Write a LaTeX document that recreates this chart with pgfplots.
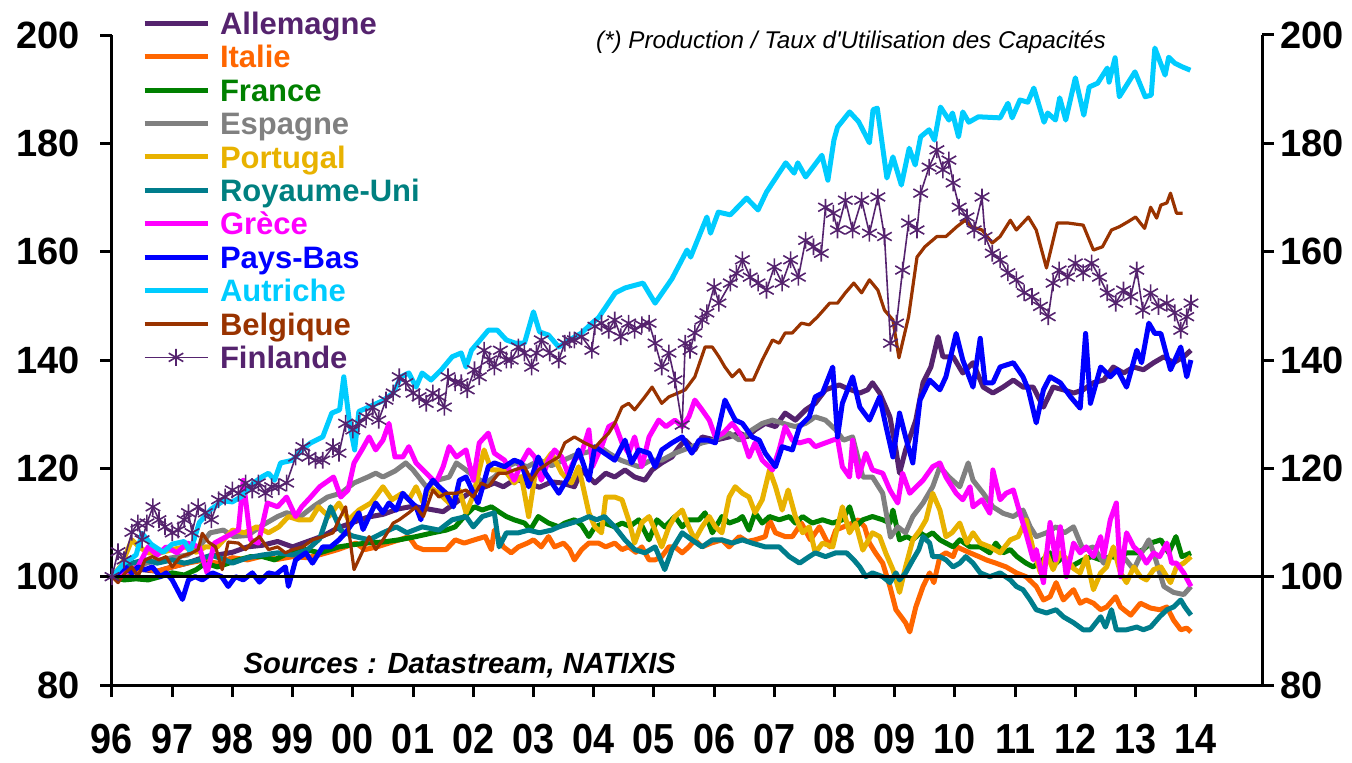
\documentclass[border=0pt]{standalone}
\usepackage{fontspec}
\setmainfont{Liberation Sans}
\newfontfamily\plainfont{Liberation Sans}[Ligatures=TeXOff]
\newfontfamily\condfont{Liberation Sans}[FakeStretch=0.9]
\usepackage{pgfplots}
\pgfplotsset{compat=1.18}
\definecolor{cAll}{RGB}{85,35,110}
\definecolor{cIta}{RGB}{255,102,0}
\definecolor{cFra}{RGB}{0,128,0}
\definecolor{cEsp}{RGB}{128,128,128}
\definecolor{cPor}{RGB}{232,178,0}
\definecolor{cRU}{RGB}{0,125,140}
\definecolor{cRUt}{RGB}{0,128,128}
\definecolor{cGre}{RGB}{255,0,255}
\definecolor{cPB}{RGB}{0,0,255}
\definecolor{cAut}{RGB}{0,204,255}
\definecolor{cBel}{RGB}{153,51,0}
\definecolor{cFin}{RGB}{85,35,110}
\pgfplotsset{
  common/.style={
    scale only axis, width=575pt, height=325pt,
    xmin=1996, xmax=2015.1, ymin=80, ymax=200,
    ytick={80,100,...,200},
    yticklabels={80,100,120,140,160,180,200},
    tick align=outside, major tick length=6pt,
    every tick/.style={black, line width=1.5pt},
    axis line style={black, line width=1.5pt, -},
    tick label style={font=\fontsize{19}{19}\selectfont\bfseries},
  }
}
\begin{document}
\begin{tikzpicture}
\path[use as bounding box] (-56pt,-38.5pt) rectangle (620pt,342.5pt);
\begin{axis}[common,
  axis x line*=bottom, axis y line*=left,
  xtick={1996,...,2014},
  xticklabels={96,97,98,99,00,01,02,03,04,05,06,07,08,09,10,11,12,13,14},
  xticklabel style={font=\condfont\fontsize{21}{21}\selectfont\bfseries, anchor=north, inner sep=0pt, yshift=-13.5pt},
  yticklabel style={anchor=east, inner sep=0pt, xshift=-10pt},
  clip=false,
  every axis plot/.append style={line join=round, mark=none},
  legend image code/.code={\draw[#1,mark repeat=2,mark phase=2] plot coordinates {(0pt,0pt) (15.75pt,0pt) (31.5pt,0pt)};},
  legend style={at={(rel axis cs:0.0261,1.0436)}, anchor=north west,
    draw=none, fill=none, inner sep=0pt, outer sep=0pt, row sep=0pt,
    font=\fontsize{15.5}{16}\selectfont\bfseries,
    nodes={anchor=west, inner sep=0pt, text height=13.9pt, text depth=2.8pt},
    /tikz/every odd column/.append style={column sep=5pt}},
]
% Allemagne
\addplot[cAll, line width=2.5pt] coordinates {
(1996.0,100) (1996.25,100.5) (1996.5,101.3) (1996.75,101) (1997.0,101.8) (1997.25,102.5) (1997.5,103.5) (1997.75,104)
(1998.0,104.5) (1998.25,105.5) (1998.5,105.8) (1998.75,106.5) (1999.0,105.5) (1999.25,106.5) (1999.5,107.5) (1999.75,109)
(2000.0,110) (2000.25,111) (2000.5,111.5) (2000.75,112.5) (2001.0,113) (2001.25,112.5) (2001.5,112) (2001.75,114)
(2002.0,116) (2002.2,116.6) (2002.35,117.3) (2002.5,116.6) (2002.7,118) (2002.9,117.3) (2003.1,116.5) (2003.3,117.5)
(2003.47,117.3) (2003.68,116.6) (2003.8,119.7) (2004.02,117.3) (2004.2,119.1) (2004.35,118.4) (2004.52,119.7) (2004.68,118.4)
(2004.85,117.8) (2004.97,119.7) (2005.13,121) (2005.3,122.1) (2005.42,124) (2005.52,125.2) (2005.68,123.4) (2005.8,125.8)
(2006.02,125.2) (2006.25,125.8) (2006.42,126.5) (2006.55,125.8) (2006.68,127.1) (2006.85,128.3) (2007.02,127.7) (2007.18,130.2)
(2007.35,128.9) (2007.52,130.8) (2007.68,132) (2007.85,134.5) (2008.08,135.4) (2008.2,134.8) (2008.42,133.9) (2008.55,134.5)
(2008.63,135.8) (2008.75,133.9) (2008.92,129.5) (2009.02,123.4) (2009.08,119.1) (2009.18,123.4) (2009.35,128.9) (2009.47,135.8)
(2009.6,138.7) (2009.72,144.3) (2009.8,140.6) (2009.97,140.6) (2010.13,137.6) (2010.3,139.5) (2010.47,135) (2010.63,133.9)
(2010.8,135) (2010.97,136.3) (2011.13,135) (2011.3,135) (2011.47,131.3) (2011.63,135) (2011.8,134.5) (2011.97,133.9)
(2012.13,134.5) (2012.3,135.8) (2012.47,136.3) (2012.63,138.7) (2012.8,137.6) (2012.97,138.7) (2013.13,138.2) (2013.3,139.5)
(2013.47,140.6) (2013.63,139.5) (2013.8,140.6) (2013.92,141.8)};
\addlegendentry{\textcolor{cAll}{Allemagne}}
% Italie
\addplot[cIta, line width=2.5pt] coordinates {
(1996.0,100) (1996.25,100.8) (1996.5,101.5) (1996.75,101) (1997.0,101.8) (1997.25,102.5) (1997.5,103) (1997.75,102.5)
(1998.0,103.5) (1998.25,103.1) (1998.5,103.8) (1998.75,103.2) (1999.0,103.7) (1999.25,103.5) (1999.5,104.2) (1999.75,105)
(2000.05,106.2) (2000.2,105) (2000.4,105.5) (2000.6,106.2) (2000.77,106.8) (2000.93,107.4) (2001.05,105.5) (2001.17,105)
(2001.35,105) (2001.55,105) (2001.7,106.8) (2001.85,106.2) (2002.02,106.8) (2002.2,107.4) (2002.3,105) (2002.35,108.6)
(2002.5,105.5) (2002.63,104.4) (2002.75,105.5) (2002.9,106.2) (2003.0,106.8) (2003.13,105.5) (2003.25,107.4) (2003.35,105.5)
(2003.5,106.2) (2003.6,105) (2003.68,103.1) (2003.8,105) (2003.92,106.2) (2004.08,106.2) (2004.2,105.5) (2004.35,106.2)
(2004.47,105) (2004.58,105.5) (2004.7,104.5) (2004.8,105.5) (2004.92,103.1) (2005.02,103.1) (2005.13,103.7) (2005.25,105.5)
(2005.35,105.5) (2005.47,104.4) (2005.58,105.5) (2005.68,106.8) (2005.8,105.5) (2005.95,106.2) (2006.13,106.8) (2006.25,105.5)
(2006.42,107.4) (2006.55,106.5) (2006.68,106.8) (2006.85,107.4) (2006.92,110.5) (2007.02,108.1) (2007.18,107.4) (2007.3,107.4)
(2007.45,109.9) (2007.6,106.8) (2007.75,109.2) (2007.92,105.5) (2008.02,108.6) (2008.15,109.2) (2008.3,109.9) (2008.4,110.5)
(2008.5,109.2) (2008.58,106.2) (2008.68,104.4) (2008.8,102.5) (2008.92,98.2) (2009.02,93.9) (2009.18,91.5) (2009.25,89.8)
(2009.35,94.4) (2009.47,98.2) (2009.58,100.7) (2009.65,98.9) (2009.75,103.7) (2009.85,104.4) (2009.97,103.7) (2010.03,105.5)
(2010.13,105) (2010.25,104.4) (2010.4,103.7) (2010.52,103.1) (2010.68,102.5) (2010.85,101.8) (2011.02,100.7) (2011.18,100)
(2011.35,98.2) (2011.47,95.7) (2011.58,96.3) (2011.68,98.9) (2011.8,95.7) (2011.97,97.6) (2012.08,95.1) (2012.18,95.7)
(2012.3,95.1) (2012.42,93.9) (2012.52,94.4) (2012.67,96.3) (2012.75,94.4) (2012.92,92.9) (2013.08,95.1) (2013.25,94.2)
(2013.4,93.9) (2013.52,94.4) (2013.63,92) (2013.75,90.2) (2013.85,90.5) (2013.92,89.8)};
\addlegendentry{\textcolor{cIta}{Italie}}
% France
\addplot[cFra, line width=2.5pt] coordinates {
(1996.0,100) (1996.2,99.4) (1996.4,99.6) (1996.6,99.4) (1996.8,100) (1997.0,100.7) (1997.2,100.3) (1997.4,101.3)
(1997.55,102.5) (1997.75,101.8) (1998.1,103.1) (1998.3,103.7) (1998.5,103.7) (1998.7,103.1) (1998.93,104.4) (1999.22,105)
(1999.45,104.4) (1999.77,105.5) (2000.0,105.9) (2000.22,106.2) (2000.5,106.4) (2000.77,106.8) (2001.05,107.4) (2001.33,108.1)
(2001.55,108.6) (2001.7,109.2) (2001.85,111.1) (2002.02,112.9) (2002.15,112.3) (2002.3,112.9) (2002.45,111.8) (2002.55,111.1)
(2002.68,110.5) (2002.85,109.9) (2002.95,108.7) (2003.08,111.1) (2003.25,109.9) (2003.42,109.2) (2003.52,109.9) (2003.68,110.5)
(2003.8,109.5) (2003.92,107.4) (2004.02,109.2) (2004.18,109.9) (2004.35,109.2) (2004.47,109.9) (2004.6,109.3) (2004.75,110.5)
(2004.92,106.8) (2005.05,110.5) (2005.18,109.2) (2005.35,111.1) (2005.47,109.2) (2005.58,110.5) (2005.75,110.5) (2005.85,111.8)
(2005.97,108.1) (2006.13,111.1) (2006.25,109.9) (2006.4,110.5) (2006.47,111.1) (2006.58,108.6) (2006.68,111.8) (2006.8,109.9)
(2006.92,111.1) (2007.08,110.5) (2007.25,111.1) (2007.35,109.9) (2007.47,111.1) (2007.63,109.9) (2007.8,110.5) (2007.97,109.9)
(2008.13,110.5) (2008.25,112.9) (2008.35,109.2) (2008.47,110.5) (2008.63,111.1) (2008.8,110.5) (2008.92,109.9) (2008.97,112.3)
(2009.08,106.8) (2009.2,107.4) (2009.3,106.8) (2009.42,108.1) (2009.52,107.4) (2009.63,108.1) (2009.75,106.8) (2009.85,106.2)
(2009.97,105.5) (2010.08,106.8) (2010.25,105.5) (2010.42,105.5) (2010.58,104.4) (2010.68,106.2) (2010.8,104.4) (2010.92,105)
(2011.03,103.7) (2011.18,102.5) (2011.3,101.8) (2011.45,103) (2011.58,104.4) (2011.68,102.5) (2011.8,103.7) (2011.92,101.8)
(2012.03,102.5) (2012.13,103.1) (2012.27,103.7) (2012.42,103.1) (2012.58,103.7) (2012.72,103.5) (2012.85,104.4) (2013.02,104.4)
(2013.13,105) (2013.25,106.2) (2013.42,106.8) (2013.55,104.4) (2013.67,107.4) (2013.77,103.7) (2013.92,104.4)};
\addlegendentry{\textcolor{cFra}{France}}
% Espagne
\addplot[cEsp, line width=2.5pt] coordinates {
(1996.0,100) (1996.25,101) (1996.5,102.3) (1996.75,103) (1997.0,103.5) (1997.25,104) (1997.45,105.5) (1997.63,108.1)
(1997.85,108.6) (1998.02,107.4) (1998.25,107.6) (1998.5,109.5) (1998.75,111.1) (1998.9,111.8) (1999.13,111.1) (1999.35,113)
(1999.58,114.7) (1999.8,115.4) (2000.02,117.3) (2000.25,118.4) (2000.38,119.1) (2000.5,118.4) (2000.7,119.5) (2000.88,121)
(2001.0,119.7) (2001.22,116.6) (2001.4,117.8) (2001.6,118.4) (2001.72,121) (2001.88,119.7) (2002.02,118.4) (2002.2,117.3)
(2002.35,118.4) (2002.5,120) (2002.7,121) (2002.9,120.3) (2003.1,121.5) (2003.3,120.5) (2003.5,121.5) (2003.7,122.5)
(2003.9,123) (2004.1,124) (2004.25,122.8) (2004.45,121.5) (2004.75,120.3) (2004.95,121.5) (2005.13,121.5) (2005.35,122.8)
(2005.63,124) (2005.8,124.7) (2006.0,125.2) (2006.25,126.5) (2006.42,125.2) (2006.63,127.1) (2006.8,128.3) (2006.97,128.9)
(2007.15,128.3) (2007.35,127.7) (2007.52,128.3) (2007.68,129.5) (2007.85,128.9) (2008.02,127.1) (2008.15,125.2) (2008.3,125.8)
(2008.47,118.4) (2008.63,118.4) (2008.8,115.4) (2008.93,107.3) (2009.05,109.2) (2009.18,108.1) (2009.3,111.1) (2009.47,113.6)
(2009.63,116.6) (2009.75,120.3) (2009.9,118.4) (2010.08,116.6) (2010.22,121) (2010.3,117.8) (2010.47,115.4) (2010.63,112.9)
(2010.8,111.7) (2010.97,111.1) (2011.13,112.3) (2011.25,109.2) (2011.35,107.4) (2011.52,108.1) (2011.68,109.2) (2011.82,108.1)
(2011.97,109.2) (2012.13,104.9) (2012.3,105.5) (2012.47,102.5) (2012.63,104.4) (2012.8,103.7) (2012.97,101.3) (2013.1,104.4)
(2013.22,106.8) (2013.3,104.4) (2013.47,98.2) (2013.63,97.1) (2013.8,96.7) (2013.92,98.2)};
\addlegendentry{\textcolor{cEsp}{Espagne}}
% Portugal
\addplot[cPor, line width=2.5pt] coordinates {
(1996.0,100) (1996.15,102) (1996.33,106.8) (1996.45,105.5) (1996.6,104.4) (1996.8,104.4) (1997.0,105) (1997.2,105.5)
(1997.4,104.5) (1997.55,105.5) (1997.75,105.5) (1998.0,108.6) (1998.2,108.1) (1998.4,109.2) (1998.6,108.1) (1998.77,109.2)
(1998.93,111.1) (1999.1,110.5) (1999.3,110.5) (1999.43,112.9) (1999.6,111.1) (1999.77,113.6) (1999.93,110.5) (2000.1,112.3)
(2000.3,113.6) (2000.5,116.6) (2000.65,114.2) (2000.82,115.4) (2000.93,114.2) (2001.05,116.6) (2001.17,113.6) (2001.27,116.6)
(2001.43,115.4) (2001.6,113.6) (2001.77,116) (2001.88,111.8) (2002.0,115) (2002.18,123.4) (2002.3,119.7) (2002.52,119.7)
(2002.68,117.3) (2002.8,118.5) (2002.92,111.1) (2003.02,118.4) (2003.18,121) (2003.3,122.8) (2003.47,119.1) (2003.63,117.3)
(2003.75,120.3) (2003.92,111.8) (2004.02,109.2) (2004.13,108.1) (2004.2,114.7) (2004.35,114.7) (2004.47,114.2) (2004.58,110.5)
(2004.68,106.2) (2004.8,110) (2004.92,111.1) (2005.02,108.6) (2005.13,105.5) (2005.25,109.2) (2005.35,111.1) (2005.47,112.3)
(2005.58,109.2) (2005.68,106.8) (2005.8,109.2) (2005.92,111.1) (2006.02,109.2) (2006.13,108.1) (2006.25,114.7) (2006.35,116.6)
(2006.47,115.4) (2006.58,114.7) (2006.68,111.8) (2006.8,114.2) (2006.92,119.7) (2007.02,116.6) (2007.13,112.3) (2007.23,116)
(2007.35,111.1) (2007.47,108.1) (2007.58,109.2) (2007.68,104.4) (2007.8,106.2) (2007.97,105.5) (2008.13,112.9) (2008.25,108.1)
(2008.35,109.9) (2008.47,104.9) (2008.63,108.1) (2008.75,107.4) (2008.85,104.4) (2008.97,101.3) (2009.08,97.1) (2009.18,101.8)
(2009.3,106.8) (2009.42,108.6) (2009.52,110.5) (2009.63,115.4) (2009.75,112.3) (2009.85,107.4) (2009.95,108.1) (2010.08,109.9)
(2010.2,106.2) (2010.3,108.1) (2010.42,106.2) (2010.58,105.5) (2010.75,104.4) (2010.92,106.8) (2011.05,107.4) (2011.18,110.5)
(2011.3,105) (2011.42,100.7) (2011.52,104.4) (2011.63,101.3) (2011.75,104.4) (2011.87,103.1) (2011.97,101.5) (2012.08,100.7)
(2012.18,103.7) (2012.3,97.6) (2012.42,100.7) (2012.52,101.8) (2012.63,105.5) (2012.75,100.7) (2012.85,98.9) (2012.97,101.8)
(2013.08,100) (2013.18,99.4) (2013.3,101.3) (2013.42,101.8) (2013.58,98.9) (2013.68,101.8) (2013.8,102.5) (2013.92,103.7)};
\addlegendentry{\textcolor{cPor}{Portugal}}
% Royaume-Uni
\addplot[cRU, line width=2.5pt] coordinates {
(1996.0,100) (1996.2,101.5) (1996.33,102.5) (1996.55,103.1) (1996.75,102.5) (1997.0,103.1) (1997.2,102.5) (1997.45,103.1)
(1997.65,104) (1997.85,103.2) (1998.0,102.5) (1998.25,103.5) (1998.5,104) (1998.75,104.4) (1999.0,104) (1999.25,105)
(1999.45,107) (1999.63,112.9) (1999.8,108.5) (2000.0,107.5) (2000.27,106.8) (2000.5,108.1) (2000.72,109.2) (2000.9,108.1)
(2001.15,109.2) (2001.43,108.6) (2001.65,110.5) (2001.88,111.1) (2002.0,109.2) (2002.15,111.1) (2002.35,111.8) (2002.43,105.5)
(2002.55,108.1) (2002.75,108.1) (2002.92,108.6) (2003.1,108.1) (2003.3,108.6) (2003.42,109.2) (2003.63,109.9) (2003.8,110.5)
(2003.92,111.1) (2004.05,110.5) (2004.18,111.1) (2004.35,109.2) (2004.52,106.8) (2004.68,105) (2004.85,104.4) (2005.02,105.5)
(2005.18,101.3) (2005.3,105) (2005.47,108.1) (2005.63,106.8) (2005.8,105.5) (2005.97,106.8) (2006.13,106.8) (2006.3,106.2)
(2006.47,106.8) (2006.63,106.2) (2006.85,105.5) (2007.08,105.5) (2007.25,103.7) (2007.42,102.5) (2007.58,103.7) (2007.68,104.4)
(2007.85,103.7) (2008.02,104.4) (2008.2,104.4) (2008.32,103.1) (2008.42,101.8) (2008.52,100) (2008.63,100.7) (2008.8,100)
(2008.92,98.9) (2009.02,100.7) (2009.08,99.4) (2009.18,100.7) (2009.3,103.1) (2009.4,105) (2009.47,107.4) (2009.58,106.2)
(2009.63,103.7) (2009.75,103.7) (2009.85,103.1) (2009.97,101.8) (2010.08,102.5) (2010.18,103.7) (2010.3,102.5) (2010.42,100.7)
(2010.58,100) (2010.75,100.7) (2010.92,99.4) (2011.02,98.2) (2011.13,97.6) (2011.25,95.7) (2011.35,93.9) (2011.52,93.3)
(2011.68,93.9) (2011.8,92.6) (2011.97,91.5) (2012.13,90.2) (2012.25,90.2) (2012.42,92.6) (2012.5,90.7) (2012.6,93.9)
(2012.68,90.2) (2012.85,90.2) (2013.02,90.7) (2013.13,90.2) (2013.25,90.7) (2013.4,92.6) (2013.52,93.9) (2013.63,94.4)
(2013.75,95.7) (2013.82,94.4) (2013.92,92.9)};
\addlegendentry{\textcolor{cRUt}{Royaume-Uni}}
% Grece
\addplot[cGre, line width=2.5pt] coordinates {
(1996.0,100) (1996.2,100.7) (1996.43,101.8) (1996.6,105.5) (1996.75,104) (1996.9,105.5) (1997.08,104.4) (1997.25,106.2)
(1997.45,105.5) (1997.58,100.7) (1997.7,106.2) (1997.9,107.4) (1998.1,108.6) (1998.18,117.8) (1998.3,106.8) (1998.43,106.2)
(1998.58,113.6) (1998.75,112.9) (1998.9,114.7) (1999.05,111.1) (1999.15,112.9) (1999.3,114.7) (1999.45,116.6) (1999.68,118.4)
(1999.8,114.7) (1999.92,116) (2000.02,121) (2000.15,123.4) (2000.27,125.8) (2000.38,123.4) (2000.5,125.2) (2000.6,128.3)
(2000.7,122.1) (2000.83,122.1) (2000.93,124) (2001.05,121) (2001.22,119.1) (2001.38,117.3) (2001.5,120.3) (2001.6,124)
(2001.72,122.1) (2001.88,123.4) (2002.0,117.8) (2002.1,124.7) (2002.25,126.5) (2002.35,122.8) (2002.52,121.5) (2002.68,117.8)
(2002.8,121) (2002.92,123.4) (2003.02,122.1) (2003.13,117.8) (2003.25,121.5) (2003.35,123.4) (2003.47,122.1) (2003.57,119.1)
(2003.68,121.5) (2003.8,122.8) (2003.92,127.1) (2003.98,120.3) (2004.13,124) (2004.25,127.7) (2004.35,128.3) (2004.47,124.7)
(2004.58,122.8) (2004.68,125.8) (2004.8,120.3) (2004.92,125.8) (2005.08,128.9) (2005.2,127.7) (2005.35,128.9) (2005.47,127.7)
(2005.58,129.5) (2005.68,132.6) (2005.8,130.8) (2005.92,128.9) (2006.02,125.8) (2006.15,126.5) (2006.3,128.3) (2006.47,125.8)
(2006.58,122.1) (2006.68,124.7) (2006.8,121.5) (2006.97,119.7) (2007.08,123.4) (2007.18,127.7) (2007.3,125.2) (2007.42,124.7)
(2007.58,125.2) (2007.68,124) (2007.8,124.5) (2007.97,125.2) (2008.05,125.5) (2008.13,120.3) (2008.25,118.4) (2008.3,125.2)
(2008.4,118.4) (2008.52,122.8) (2008.63,119.7) (2008.8,119.1) (2008.92,116) (2009.05,113.6) (2009.13,119.1) (2009.25,115.4)
(2009.47,117.8) (2009.63,120.3) (2009.75,121) (2009.85,118.4) (2010.02,115.4) (2010.13,114.2) (2010.25,116.6) (2010.3,112.9)
(2010.45,114.2) (2010.58,111.7) (2010.63,119.7) (2010.75,114.2) (2010.85,115.4) (2010.97,116) (2011.08,111.7) (2011.18,108)
(2011.3,103.1) (2011.35,105) (2011.47,98.9) (2011.58,110) (2011.67,103.1) (2011.75,109.2) (2011.85,100) (2011.97,106.2)
(2012.08,104.4) (2012.18,105.5) (2012.3,103.7) (2012.42,107.4) (2012.47,103.7) (2012.58,110.5) (2012.68,113.6) (2012.75,100)
(2012.85,108.1) (2012.97,105.5) (2013.08,104.4) (2013.18,102.5) (2013.3,104.4) (2013.4,103.7) (2013.52,106.2) (2013.6,102.5)
(2013.68,102.5) (2013.8,100.7) (2013.92,98.2)};
\addlegendentry{\textcolor{cGre}{Grèce}}
% Pays-Bas
\addplot[cPB, line width=2.5pt] coordinates {
(1996.0,100) (1996.1,100.7) (1996.22,101.8) (1996.33,100.7) (1996.43,101.8) (1996.55,101.3) (1996.67,101.8) (1996.8,100)
(1996.9,100.7) (1997.0,99.4) (1997.17,95.8) (1997.27,99.4) (1997.38,100) (1997.5,99.4) (1997.67,100.7) (1997.82,100)
(1997.93,98.2) (1998.05,100) (1998.18,99.4) (1998.33,100.7) (1998.45,99) (1998.6,100.7) (1998.72,100.4) (1998.88,101.8)
(1998.93,98.2) (1999.05,103.1) (1999.22,104.4) (1999.33,102.5) (1999.5,105.5) (1999.63,105.5) (1999.77,106.8) (1999.88,108.1)
(2000.0,110) (2000.1,111.8) (2000.17,108.7) (2000.27,111.1) (2000.38,113.6) (2000.5,111.8) (2000.6,113.6) (2000.72,112.3)
(2000.83,115.4) (2000.93,114.2) (2001.05,112.9) (2001.13,110.5) (2001.22,116) (2001.33,117.8) (2001.43,116.6) (2001.55,115.4)
(2001.67,112.9) (2001.77,117.8) (2001.88,118.4) (2002.08,113.6) (2002.25,120.3) (2002.35,121) (2002.52,120.3) (2002.68,121.5)
(2002.8,121) (2002.92,116.6) (2003.08,122.1) (2003.2,119.1) (2003.42,115.4) (2003.58,118.4) (2003.75,123.4) (2003.92,117.8)
(2004.02,124) (2004.18,122.8) (2004.35,121.5) (2004.52,125.2) (2004.63,121) (2004.75,123.4) (2004.92,122.8) (2005.02,120.3)
(2005.13,123.4) (2005.3,124.7) (2005.47,125.8) (2005.63,122.8) (2005.75,125.2) (2005.9,125.2) (2006.02,124.7) (2006.18,132.6)
(2006.35,128.9) (2006.47,128.3) (2006.63,125.8) (2006.75,125.2) (2006.85,122.8) (2007.02,120.3) (2007.13,124) (2007.3,123.4)
(2007.42,127.7) (2007.58,129.5) (2007.68,133.2) (2007.8,133.9) (2007.97,138.7) (2008.05,125.8) (2008.13,132) (2008.3,136.9)
(2008.42,131.3) (2008.58,128.9) (2008.75,133.2) (2008.85,128) (2008.97,122.1) (2009.08,130.2) (2009.18,125.8) (2009.3,121)
(2009.42,132.6) (2009.58,136.3) (2009.75,134.5) (2009.85,136.9) (2010.02,144.9) (2010.13,140) (2010.3,135) (2010.42,144)
(2010.5,135.8) (2010.63,135.8) (2010.75,138.7) (2010.97,139.5) (2011.13,136.9) (2011.22,134.5) (2011.35,128.4) (2011.47,134.5)
(2011.58,136.9) (2011.75,135.8) (2011.92,133.2) (2012.08,131.1) (2012.17,144.9) (2012.25,132) (2012.42,138.7) (2012.58,136.9)
(2012.7,138.2) (2012.85,135) (2013.02,141.8) (2013.1,139.5) (2013.22,146.8) (2013.32,144.9) (2013.42,144.9) (2013.58,138.2)
(2013.75,142.4) (2013.85,136.9) (2013.92,140)};
\addlegendentry{\textcolor{cPB}{Pays-Bas}}
% Autriche
\addplot[cAut, line width=2.5pt] coordinates {
(1996.0,100) (1996.2,102.5) (1996.4,104) (1996.5,108) (1996.65,106) (1996.85,104.5) (1997.0,106) (1997.2,106.5)
(1997.3,104.6) (1997.45,110) (1997.65,112.5) (1997.85,114) (1998.0,113.8) (1998.15,114.8) (1998.35,117.3) (1998.5,118.5)
(1998.6,119.1) (1998.7,117.8) (1998.8,121) (1999.0,121.5) (1999.15,123.4) (1999.3,124.7) (1999.5,125.8) (1999.65,130.2)
(1999.78,130.8) (1999.85,136.9) (1999.95,128) (2000.03,123.4) (2000.1,130.5) (2000.3,131.5) (2000.5,132.5) (2000.67,133.9)
(2000.8,136.9) (2000.93,137.6) (2001.05,135) (2001.15,137.6) (2001.3,136.3) (2001.47,138.2) (2001.65,140.6) (2001.8,141.3)
(2001.88,138.7) (2001.97,141.8) (2002.1,143.5) (2002.25,145.5) (2002.4,145.5) (2002.55,143.7) (2002.7,143.1) (2002.85,143.1)
(2003.0,148.9) (2003.1,145.2) (2003.25,144.6) (2003.42,142.4) (2003.6,143.7) (2003.8,145) (2003.97,146.8) (2004.08,147.8)
(2004.36,152.4) (2004.52,153.3) (2004.82,154.2) (2005.02,150.5) (2005.3,155) (2005.55,160.3) (2005.61,159) (2005.88,166.4)
(2005.94,163.4) (2006.07,167.3) (2006.27,166.8) (2006.54,169.9) (2006.73,167.7) (2006.87,171) (2007.19,176.4) (2007.33,174.5)
(2007.39,176.4) (2007.52,173.8) (2007.79,177.8) (2007.89,173.2) (2007.99,180.6) (2008.05,183) (2008.25,185.8) (2008.4,184)
(2008.58,180.1) (2008.64,186.2) (2008.71,186.5) (2008.87,173.6) (2008.97,177.5) (2009.11,172.3) (2009.24,179.1) (2009.34,176)
(2009.43,181.2) (2009.57,182.5) (2009.66,180.6) (2009.76,186.7) (2009.9,184.3) (2009.96,185.6) (2010.06,181.2) (2010.13,185.8)
(2010.23,183.9) (2010.39,184.9) (2010.75,184.7) (2010.88,187.4) (2010.95,184.7) (2011.08,188) (2011.21,187.6) (2011.31,190.2)
(2011.48,183.9) (2011.54,185.6) (2011.67,184.3) (2011.74,188.4) (2011.84,184.3) (2012.0,192.1) (2012.14,185.2) (2012.23,190.4)
(2012.37,191.1) (2012.53,193.9) (2012.56,191.3) (2012.66,195.8) (2012.73,188.6) (2012.99,193.2) (2013.16,188.6) (2013.26,188.9)
(2013.32,197.6) (2013.49,192.6) (2013.55,195.9) (2013.65,194.8) (2013.78,194.1) (2013.91,193.5)};
\addlegendentry{\textcolor{cAut}{Autriche}}
% Belgique
\addplot[cBel, line width=1.6pt] coordinates {
(1996.0,100) (1996.1,98.9) (1996.22,100.7) (1996.33,101.8) (1996.43,100) (1996.55,103.1) (1996.67,103.7) (1996.78,103.1)
(1996.9,103.7) (1997.0,101.8) (1997.12,103.5) (1997.22,104) (1997.33,104.4) (1997.43,105) (1997.5,108) (1997.6,106.4)
(1997.72,105.5) (1997.83,101.3) (1997.93,106.4) (1998.1,106.2) (1998.22,105) (1998.33,106.4) (1998.45,107.4) (1998.6,105)
(1998.75,105.5) (1998.88,104.4) (1999.0,105) (1999.17,105.5) (1999.33,106.8) (1999.5,107.4) (1999.67,108.1) (1999.77,110.5)
(1999.88,112.9) (2000.02,101.3) (2000.15,104.4) (2000.27,107.4) (2000.38,105) (2000.5,106.8) (2000.67,109.9) (2000.77,110.5)
(2000.93,111.8) (2001.05,112.9) (2001.17,111.1) (2001.33,116) (2001.43,114.7) (2001.55,115.4) (2001.72,115.4) (2001.88,116)
(2002.0,114.7) (2002.13,117.3) (2002.25,116.6) (2002.42,119.1) (2002.55,119.1) (2002.68,119.7) (2002.85,120.3) (2002.97,117.8)
(2003.08,119.7) (2003.25,121) (2003.42,122.1) (2003.52,124.7) (2003.68,125.8) (2003.85,124.7) (2004.02,123.8) (2004.13,125.2)
(2004.25,126.5) (2004.35,128.3) (2004.47,131.3) (2004.58,132) (2004.68,130.8) (2004.85,133.2) (2004.97,135) (2005.13,132)
(2005.25,133.2) (2005.4,133.9) (2005.52,134.5) (2005.68,136.9) (2005.85,142.4) (2005.97,142.4) (2006.08,140.6) (2006.18,138.7)
(2006.3,136.9) (2006.42,138.2) (2006.52,136.3) (2006.65,136.3) (2006.8,140) (2006.97,143.7) (2007.08,143.1) (2007.18,145)
(2007.3,145) (2007.45,146.8) (2007.58,146.5) (2007.72,148) (2007.92,150.5) (2008.05,150.5) (2008.18,152.4) (2008.32,154.2)
(2008.45,152.4) (2008.58,154.8) (2008.72,152.9) (2008.83,149.2) (2008.97,147.4) (2009.07,140.4) (2009.23,148) (2009.37,159)
(2009.5,160.9) (2009.7,162.8) (2009.85,162.8) (2010.03,164.6) (2010.17,165.8) (2010.28,164.6) (2010.45,164) (2010.62,161.6)
(2010.75,162.8) (2010.92,165.8) (2011.02,164) (2011.22,166.4) (2011.35,164) (2011.52,157) (2011.7,165.3) (2011.87,165.3)
(2012.13,164.9) (2012.3,160.3) (2012.45,160.9) (2012.6,164) (2012.73,164.6) (2012.87,165.5) (2013.0,166.4) (2013.15,164.3)
(2013.25,168.2) (2013.35,166.2) (2013.42,168.6) (2013.52,169) (2013.58,170.8) (2013.68,167.1) (2013.78,167.1)};
\addlegendentry{\textcolor{cBel}{Belgique}}
% Finlande
\addplot[cFin, line width=0.8pt, mark=asterisk, mark size=4.2pt, mark options={line width=0.8pt}] coordinates {
(1996.0,100) (1996.1,104.6) (1996.2,103.1) (1996.33,108.2) (1996.43,109.9) (1996.5,106.8) (1996.58,109.9) (1996.68,112.9)
(1996.78,110.5) (1996.88,109.2) (1997.0,108.1) (1997.1,108.6) (1997.2,110.5) (1997.27,111.8) (1997.33,108.1) (1997.43,112.9)
(1997.55,111.8) (1997.65,110.5) (1997.77,114.2) (1997.88,114.7) (1998.0,116) (1998.1,115.4) (1998.22,117.3) (1998.33,116)
(1998.43,117.3) (1998.55,115.4) (1998.65,116.6) (1998.77,116.6) (1998.9,117.3) (1999.05,122.1) (1999.17,124) (1999.27,122.1)
(1999.38,121.5) (1999.5,121.5) (1999.67,124) (1999.77,122.8) (1999.88,128.3) (2000.0,127.1) (2000.1,128.3) (2000.22,129.5)
(2000.33,131.3) (2000.43,128.9) (2000.55,132.6) (2000.67,133.9) (2000.77,136.9) (2000.88,135.8) (2001.0,133.9) (2001.1,133.2)
(2001.22,132) (2001.33,133.9) (2001.43,133.2) (2001.52,131.3) (2001.58,136.9) (2001.7,135.8) (2001.8,135.8) (2001.9,134.5)
(2002.02,138.2) (2002.1,136.9) (2002.18,141.8) (2002.27,140) (2002.35,138.7) (2002.45,141.8) (2002.55,140) (2002.63,140)
(2002.75,142.4) (2002.85,141.3) (2002.97,138.7) (2003.05,141.3) (2003.13,143.7) (2003.27,141.3) (2003.42,140) (2003.52,143.1)
(2003.6,143.7) (2003.68,143.7) (2003.8,144.3) (2003.97,141.8) (2004.02,146.2) (2004.13,146.8) (2004.25,145.5) (2004.35,147.4)
(2004.45,144.3) (2004.58,146.8) (2004.68,145.5) (2004.8,146.5) (2004.92,146.8) (2005.02,143.1) (2005.13,138.7) (2005.25,141.3)
(2005.35,136.3) (2005.47,128) (2005.52,143.1) (2005.6,141.8) (2005.68,145) (2005.8,147.4) (2005.88,148.7) (2006.0,153.5)
(2006.08,150.5) (2006.27,154.2) (2006.37,156) (2006.47,158.5) (2006.6,155.3) (2006.73,154.2) (2006.87,152.9) (2007.0,157.2)
(2007.13,154.2) (2007.27,158.5) (2007.4,155.3) (2007.52,162.1) (2007.65,160.9) (2007.78,159.7) (2007.85,168.2) (2007.98,167.1)
(2008.05,164) (2008.18,169.5) (2008.3,164) (2008.45,169.5) (2008.58,163.4) (2008.72,170.1) (2008.83,162.8) (2008.93,143.1)
(2009.03,146.8) (2009.13,156.6) (2009.23,165.3) (2009.37,164) (2009.43,170.8) (2009.57,175.6) (2009.7,178.8) (2009.8,175.1)
(2009.9,176.9) (2009.97,172.7) (2010.07,168.2) (2010.2,166.4) (2010.32,164) (2010.45,170.1) (2010.5,162.8) (2010.62,159.7)
(2010.75,158.5) (2010.88,156.1) (2011.02,154.8) (2011.15,152.4) (2011.28,151.7) (2011.42,149.9) (2011.55,148) (2011.63,154.2)
(2011.73,156.6) (2011.87,155.3) (2012.0,157.9) (2012.13,156.1) (2012.27,157.9) (2012.4,155.3) (2012.53,152.4) (2012.67,150.5)
(2012.8,152.9) (2012.92,151.7) (2013.02,156.6) (2013.12,149.2) (2013.25,152.4) (2013.38,149.9) (2013.52,150.5) (2013.65,148.7)
(2013.75,145.5) (2013.85,148) (2013.92,150.5)};
\addlegendentry{\textcolor{cFin}{Finlande}}
% reference line at 100
\addplot[black, line width=1.5pt, forget plot] coordinates {(1996,100) (2015.1,100)};
\node[anchor=base, font=\plainfont\fontsize{12.1}{12}\selectfont\itshape] at (rel axis cs:0.6426,0.9795) {(*) Production / Taux d'Utilisation des Capacités};
\node[anchor=base west, font=\fontsize{14.6}{15}\selectfont\bfseries\itshape] at (rel axis cs:0.1084,0.018) {Sources : Datastream, NATIXIS};
\end{axis}
\begin{axis}[common,
  axis y line*=right, axis x line=none,
  yticklabel style={anchor=west, inner sep=0pt, xshift=3pt},
]
\addplot[draw=none, forget plot] coordinates {(1996,100)};
\end{axis}
\end{tikzpicture}
\end{document}
